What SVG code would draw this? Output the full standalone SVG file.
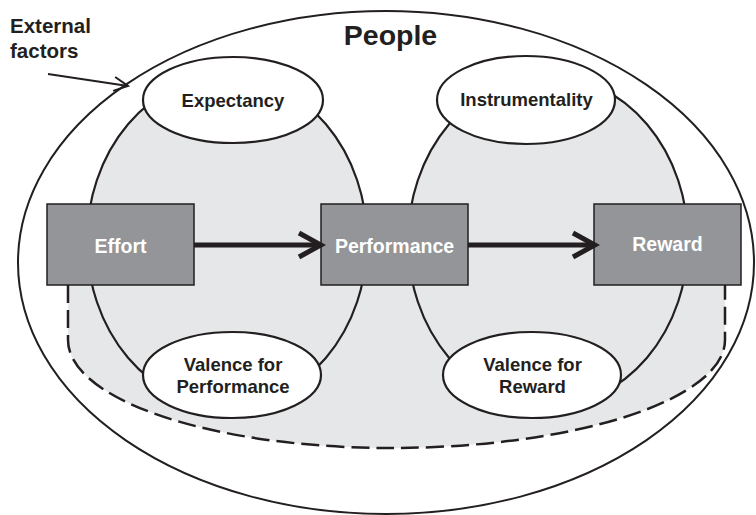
<svg xmlns="http://www.w3.org/2000/svg" width="756" height="515" viewBox="0 0 756 515">
<style>
text{font-family:"Liberation Sans",Arial,sans-serif;font-weight:bold;fill:#231f20;text-anchor:middle}
.outline{fill:#fff;stroke:#231f20;stroke-width:2}
.zone{fill:#e6e7e8;stroke:#231f20;stroke-width:2.2}
.oval{fill:#fff;stroke:#231f20;stroke-width:2.2}
.box{fill:#939598;stroke:#231f20;stroke-width:1.5}
.boxtext{fill:#fff;font-size:19.5px}
.ovtext{font-size:18.5px}
.arrow{fill:none;stroke:#231f20;stroke-width:5}
.thin{fill:none;stroke:#231f20;stroke-width:2}
</style>
<defs>
<marker id="chev" markerUnits="userSpaceOnUse" markerWidth="30" markerHeight="30" viewBox="0 0 30 30" refX="25" refY="15" orient="auto">
<path d="M3,3 L25,15 L3,27" fill="none" stroke="#231f20" stroke-width="5"/>
</marker>
<marker id="chevs" markerUnits="userSpaceOnUse" markerWidth="20" markerHeight="20" viewBox="0 0 20 20" refX="17" refY="10" orient="auto">
<path d="M3,3 L17,10 L3,17" fill="none" stroke="#231f20" stroke-width="2"/>
</marker>
</defs>
<g id="people">
<ellipse class="outline" cx="386" cy="262.5" rx="368" ry="251.5"/>
<text x="390.5" y="45" style="font-size:28.5px">People</text>
</g>
<g id="external-factors">
<text x="10" y="33" style="font-size:20.5px;text-anchor:start">External</text>
<text x="10" y="58" style="font-size:20.5px;text-anchor:start">factors</text>
</g>
<g id="dashed-zone">
<path d="M68,285 V340 A322,108 0 0 0 390,448 A335,108 0 0 0 725,340 V285 Z" fill="#e6e7e8" stroke="none"/>
<path d="M68,285 V340 A322,108 0 0 0 390,448 A335,108 0 0 0 725,340 V285" fill="none" stroke="#231f20" stroke-width="2.5" stroke-dasharray="18 7"/>
</g>
<g id="left-zone"><ellipse class="zone" cx="227" cy="241" rx="140" ry="165"/></g>
<g id="right-zone"><ellipse class="zone" cx="548" cy="241" rx="140" ry="165"/></g>
<g id="expectancy">
<ellipse class="oval" cx="233" cy="100" rx="90" ry="43"/>
<text class="ovtext" x="233" y="107">Expectancy</text>
</g>
<g id="instrumentality">
<ellipse class="oval" cx="526" cy="100" rx="89" ry="44"/>
<text class="ovtext" x="526.5" y="106">Instrumentality</text>
</g>
<g id="valence-performance">
<ellipse class="oval" cx="232" cy="375" rx="89" ry="43"/>
<text class="ovtext" x="233" y="371">Valence for</text>
<text class="ovtext" x="233" y="393">Performance</text>
</g>
<g id="valence-reward">
<ellipse class="oval" cx="532" cy="375" rx="89" ry="43"/>
<text class="ovtext" x="532.5" y="371">Valence for</text>
<text class="ovtext" x="532.5" y="393">Reward</text>
</g>
<g id="effort">
<rect class="box" x="47" y="204" width="147" height="81"/>
<text class="boxtext" x="120.5" y="252.5">Effort</text>
</g>
<g id="performance">
<rect class="box" x="321" y="204" width="147" height="81"/>
<text class="boxtext" x="394.5" y="253">Performance</text>
</g>
<g id="reward">
<rect class="box" x="594" y="204" width="147" height="81"/>
<text class="boxtext" x="667.5" y="251">Reward</text>
</g>
<g id="connectors">
<line class="arrow" x1="194" y1="245" x2="321" y2="245" marker-end="url(#chev)"/>
<line class="arrow" x1="468" y1="245" x2="595" y2="245" marker-end="url(#chev)"/>
<line class="thin" x1="48" y1="74" x2="128" y2="86" marker-end="url(#chevs)"/>
</g>
</svg>
